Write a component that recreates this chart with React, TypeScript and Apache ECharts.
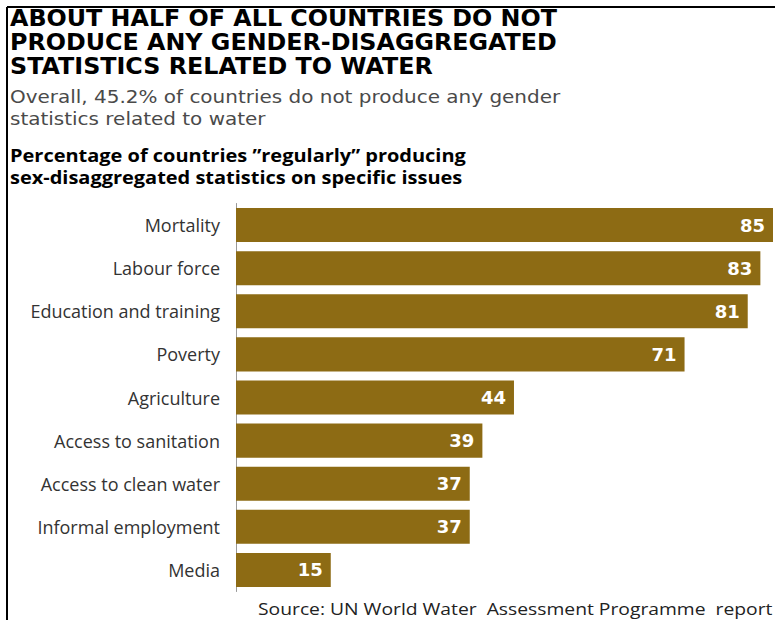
import React, { useEffect, useRef } from "react";
import * as echarts from "echarts";

const categories = [
  "Mortality",
  "Labour force",
  "Education and training",
  "Poverty",
  "Agriculture",
  "Access to sanitation",
  "Access to clean water",
  "Informal employment",
  "Media",
];
const values = [85, 83, 81, 71, 44, 39, 37, 37, 15];

const titleLines = [
  "ABOUT HALF OF ALL COUNTRIES DO NOT",
  "PRODUCE ANY GENDER-DISAGGREGATED",
  "STATISTICS RELATED TO WATER",
];
const subtitleLines = [
  "Overall, 45.2% of countries do not produce any gender",
  "statistics related to water",
];
const headingLines = [
  "Percentage of countries \u201dregularly\u201d producing",
  "sex-disaggregated statistics on specific issues",
];
const sourceText = "Source: UN World Water  Assessment Programme  report";

const BAR = "#8d6b14";

export default function App() {
  const ref = useRef<HTMLDivElement>(null);
  useEffect(() => {
    document.body.style.margin = "0";
    const chart = echarts.init(ref.current!, null, { renderer: "svg" });
    const graphics: any[] = [
      { type: "line", shape: { x1: 7, y1: 7, x2: 775, y2: 7 }, style: { stroke: "#000", lineWidth: 2 } },
      { type: "line", shape: { x1: 7, y1: 7, x2: 7, y2: 620 }, style: { stroke: "#000", lineWidth: 2 } },
    ];
    titleLines.forEach((t, i) =>
      graphics.push({
        type: "text",
        x: 10,
        y: 18 + i * 24,
        scaleX: 1.035,
        style: { text: t, font: "bold 23px 'DejaVu Sans'", fill: "#000", verticalAlign: "middle" },
      })
    );
    subtitleLines.forEach((t, i) =>
      graphics.push({
        type: "text",
        x: 10,
        y: 96 + i * 22,
        scaleX: 1.11,
        style: { text: t, font: "18px 'DejaVu Sans'", fill: "#4a4a4a", verticalAlign: "middle" },
      })
    );
    headingLines.forEach((t, i) =>
      graphics.push({
        type: "text",
        x: 10,
        y: 155 + i * 22,
        scaleX: 1.11,
        style: { text: t, font: "bold 18px 'Open Sans'", fill: "#000", verticalAlign: "middle" },
      })
    );
    graphics.push({
      type: "text",
      x: 258,
      y: 608,
      scaleX: 1.135,
      style: { text: sourceText, font: "17px 'Open Sans'", fill: "#222", verticalAlign: "middle" },
    });

    chart.setOption({
      animation: false,
      backgroundColor: "#fff",
      grid: { left: 236, right: 2, top: 203.5, bottom: 28.5, containLabel: false },
      xAxis: {
        type: "value",
        min: 0,
        max: 85,
        show: false,
      },
      yAxis: {
        type: "category",
        data: categories,
        inverse: true,
        axisLine: { show: true, lineStyle: { color: "#999", width: 1 } },
        axisTick: { show: false },
        axisLabel: {
          color: "#333",
          fontSize: 18,
          fontFamily: "Open Sans",
          margin: 16,
        },
      },
      series: [
        {
          type: "bar",
          data: values,
          barCategoryGap: "21%",
          itemStyle: { color: BAR },
          label: {
            show: true,
            position: "insideRight",
            distance: 8,
            color: "#fff",
            fontWeight: "bold",
            fontSize: 18,
            fontFamily: "DejaVu Sans",
          },
        },
      ],
      graphic: graphics,
    });
    return () => chart.dispose();
  }, []);
  return <div ref={ref} style={{ width: 775, height: 620 }} />;
}
